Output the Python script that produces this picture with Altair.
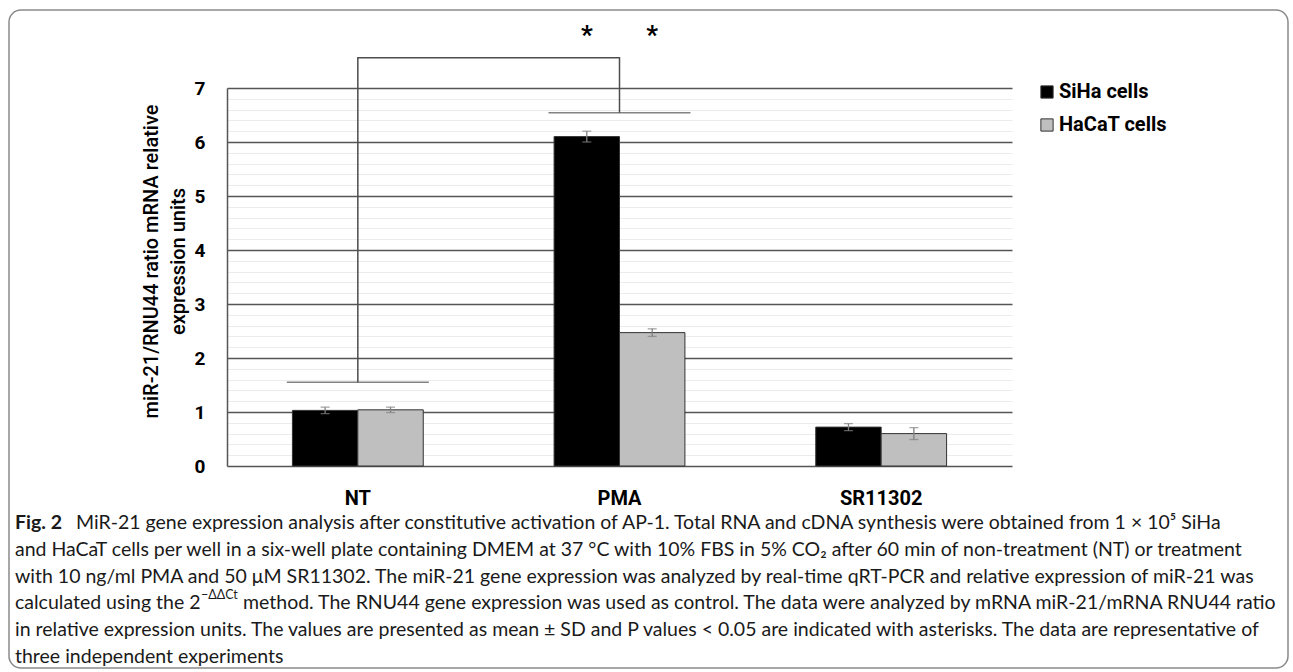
import altair as alt
import pandas as pd

# ---------------- data ----------------
categories = ["NT", "PMA", "SR11302"]
series = ["SiHa cells", "HaCaT cells"]
siha_mean = [1.03, 6.10, 0.72]
siha_sd = [0.06, 0.10, 0.065]
hacat_mean = [1.04, 2.47, 0.60]
hacat_sd = [0.05, 0.07, 0.11]

# significance bracket (NT vs PMA)
bracket_cat = ["NT", "NT", "PMA", "PMA"]
bracket_y = [1.55, 7.56, 7.56, 6.54]
foot_cat = ["NT", "PMA"]
foot_y = [1.55, 6.54]
foot_len = [142, 142]
star_cat = ["PMA", "PMA"]
star_series = ["SiHa cells", "HaCaT cells"]
star_y = [7.97, 7.97]

y_ticks = [0, 0.2, 0.4, 0.6, 0.8, 1, 1.2, 1.4, 1.6, 1.8, 2, 2.2, 2.4, 2.6, 2.8,
           3, 3.2, 3.4, 3.6, 3.8, 4, 4.2, 4.4, 4.6, 4.8, 5, 5.2, 5.4, 5.6, 5.8,
           6, 6.2, 6.4, 6.6, 6.8, 7]

y_title = ["miR-21/RNU44 ratio mRNA relative", "expression units"]

caption_bold = "Fig. 2"
caption_l1 = "MiR-21 gene expression analysis after constitutive activation of AP-1. Total RNA and cDNA synthesis were obtained from 1 \u00d7 10\u2075 SiHa"
caption_l2 = "and HaCaT cells per well in a six-well plate containing DMEM at 37 \u00b0C with 10% FBS in 5% CO\u2082 after 60 min of non-treatment (NT) or treatment"
caption_l3 = "with 10 ng/ml PMA and 50 \u03bcM SR11302. The miR-21 gene expression was analyzed by real-time qRT-PCR and relative expression of miR-21 was"
caption_l4a = "calculated using the 2"
caption_l4s = "\u2212\u0394\u0394Ct"
caption_l4b = "method. The RNU44 gene expression was used as control. The data were analyzed by mRNA miR-21/mRNA RNU44 ratio"
caption_l5 = "in relative expression units. The values are presented as mean \u00b1 SD and P values < 0.05 are indicated with asterisks. The data are representative of"
caption_l6 = "three independent experiments"

# ---------------- tables ----------------
rows = []
for c, m, s in zip(categories, siha_mean, siha_sd):
    rows.append({"category": c, "series": series[0], "mean": m, "lo": m - s, "hi": m + s})
for c, m, s in zip(categories, hacat_mean, hacat_sd):
    rows.append({"category": c, "series": series[1], "mean": m, "lo": m - s, "hi": m + s})
bars_df = pd.DataFrame(rows)

bracket_df = pd.DataFrame({"category": bracket_cat, "y": bracket_y, "order": list(range(len(bracket_cat)))})
foot_df = pd.DataFrame({"category": foot_cat, "y": foot_y, "len": foot_len})
star_df = pd.DataFrame({"category": star_cat, "series": star_series, "y": star_y})
one = pd.DataFrame({"k": [0]})

AX_FONT = "Roboto, Liberation Sans, Arial, sans-serif"
CAP_FONT = "Lato, Open Sans, sans-serif"
CAP_SIZE = 19.5

x_enc = alt.X(
    "category:N", sort=categories,
    scale=alt.Scale(domain=categories, paddingInner=0.5, paddingOuter=0.25),
    axis=alt.Axis(title=None, labelFont=AX_FONT, labelFontWeight="bold", labelFontSize=20,
                  labelColor="black", labelPadding=22, labelAngle=0, domain=False, ticks=False),
)
xoff = alt.XOffset("series:N", sort=series, scale=alt.Scale(domain=series, paddingInner=0, paddingOuter=0))
y_scale = alt.Scale(domain=[0, 7], nice=False, zero=True)
y_axis = alt.Axis(
    values=y_ticks,
    title=y_title, titleFont=AX_FONT, titleFontSize=20, titleFontWeight=500, titleColor="black",
    titleAngle=-90, titleX=-76, titleY=173, titleAlign="center", titleBaseline="middle", titleLineHeight=27,
    labelExpr="datum.value % 1 === 0 ? '' + datum.value : ''",
    labelFont=AX_FONT, labelFontWeight="bold", labelFontSize=19, labelColor="black", labelPadding=22,
    labelOverlap=False,
    ticks=False, domain=True, domainColor="#555555", domainWidth=1.5,
    grid=True,
    gridColor=alt.condition("datum.value % 1 === 0", alt.value("#555555"), alt.value("#ececec")),
    gridWidth=alt.condition("datum.value % 1 === 0", alt.value(1.6), alt.value(1)),
)

border = alt.Chart(one).mark_rect(fill="white", fillOpacity=0, stroke="#8a8a8a", strokeWidth=1.5,
                                  cornerRadius=12).encode(
    x=alt.value(-218), x2=alt.value(1061), y=alt.value(-78), y2=alt.value(580)
)

bars = alt.Chart(bars_df).mark_bar(stroke="#333333", strokeWidth=1).encode(
    x=x_enc, xOffset=xoff,
    y=alt.Y("mean:Q", scale=y_scale, axis=y_axis),
    color=alt.Color("series:N", sort=series,
                    scale=alt.Scale(domain=series, range=["#000000", "#bfbfbf"]),
                    legend=alt.Legend(title=None, orient="none", legendX=810, legendY=-6,
                                      symbolType="square", symbolSize=150, symbolStrokeColor="#333333",
                                      symbolStrokeWidth=1, labelFont=AX_FONT, labelFontWeight="bold",
                                      labelFontSize=20, labelColor="black", rowPadding=13, labelOffset=2)),
)

err = alt.Chart(bars_df).mark_rule(color="#808080", strokeWidth=1.3).encode(
    x=x_enc, xOffset=xoff, y=alt.Y("lo:Q", scale=y_scale, axis=y_axis), y2="hi:Q"
)
cap_lo = alt.Chart(bars_df).mark_tick(color="#808080", size=9, thickness=1.3).encode(
    x=x_enc, xOffset=xoff, y=alt.Y("lo:Q", scale=y_scale, axis=y_axis)
)
cap_hi = alt.Chart(bars_df).mark_tick(color="#808080", size=9, thickness=1.3).encode(
    x=x_enc, xOffset=xoff, y=alt.Y("hi:Q", scale=y_scale, axis=y_axis)
)

bracket = alt.Chart(bracket_df).mark_line(color="#4d4d4d", strokeWidth=1.5).encode(
    x=x_enc, y=alt.Y("y:Q", scale=y_scale, axis=y_axis), order="order:Q"
)
feet = alt.Chart(foot_df).mark_tick(color="#4d4d4d", thickness=1.5).encode(
    x=x_enc, y=alt.Y("y:Q", scale=y_scale, axis=y_axis), size=alt.Size("len:Q", scale=None)
)
stars = alt.Chart(star_df).mark_text(text="*", font=AX_FONT, fontWeight="bold", fontSize=26,
                                     baseline="middle", color="black").encode(
    x=x_enc, xOffset=xoff, y=alt.Y("y:Q", scale=y_scale, axis=y_axis)
)


def cap_text(txt, x, y, bold=False, size=CAP_SIZE):
    return alt.Chart(one).mark_text(text=txt, font=CAP_FONT, fontSize=size,
                                    fontWeight="bold" if bold else "normal",
                                    align="left", baseline="middle", color="#1a1a1a").encode(
        x=alt.value(x), y=alt.value(y)
    )


captions = [
    cap_text(caption_bold, -212, 435, bold=True),
    cap_text(caption_l1, -151, 435),
    cap_text(caption_l2, -212, 462),
    cap_text(caption_l3, -212, 489),
    cap_text(caption_l4a, -212, 515),
    cap_text(caption_l4s, -26, 507, size=12.5),
    cap_text(caption_l4b, 16, 515),
    cap_text(caption_l5, -212, 542),
    cap_text(caption_l6, -212, 569),
]

chart = alt.layer(border, bars, err, cap_lo, cap_hi, bracket, feet, stars, *captions).properties(
    width=785, height=378, background="white",
    padding={"left": 8, "top": 9, "right": 0, "bottom": 0},
).configure_view(stroke=None)

chart.save("out.html", embed_options={"renderer": "svg", "actions": False})
